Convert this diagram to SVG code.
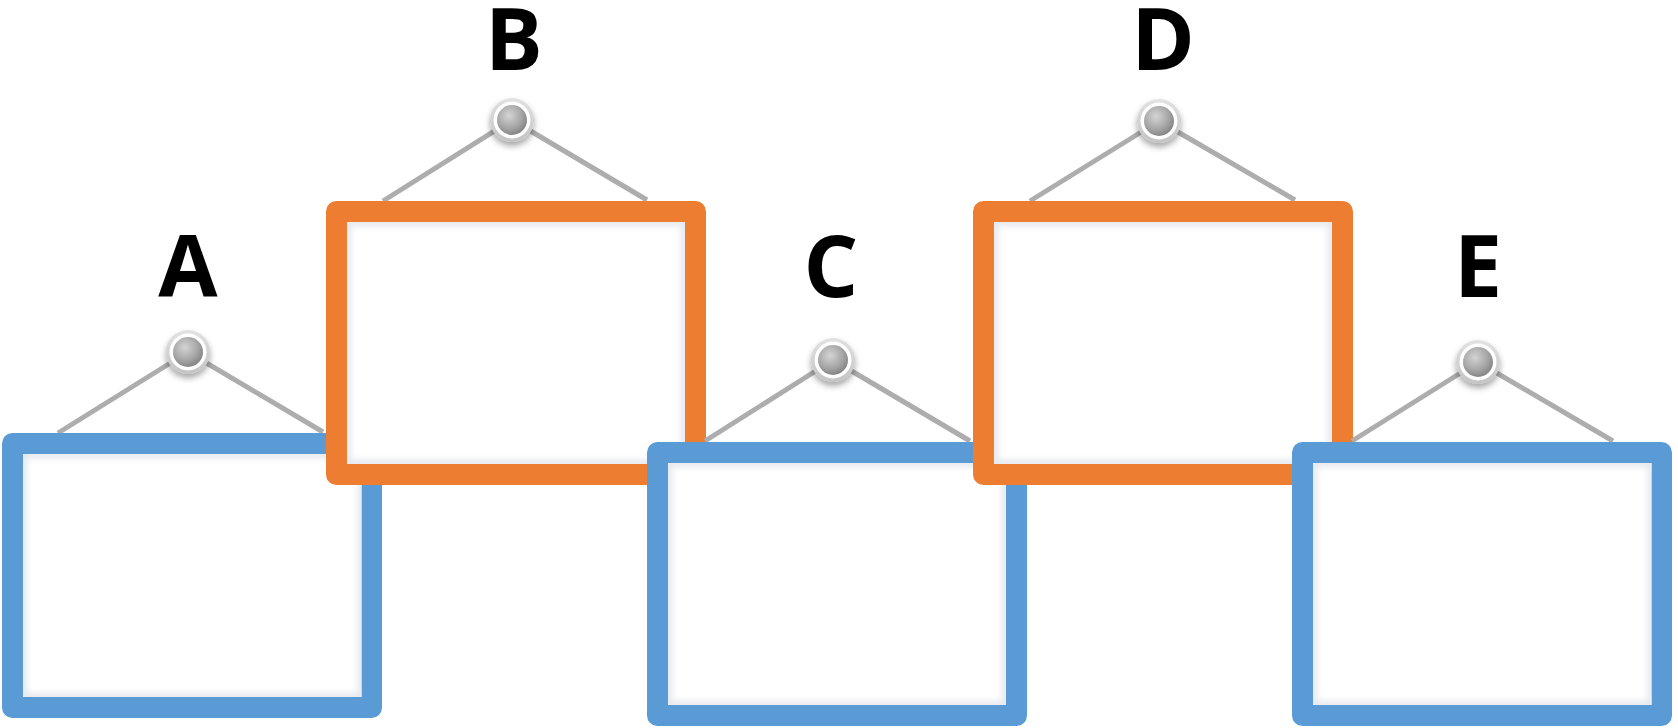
<svg xmlns="http://www.w3.org/2000/svg" width="1678" height="728" viewBox="0 0 1678 728">
  <defs>
    <radialGradient id="sphere" cx="0.4" cy="0.35" r="0.7">
      <stop offset="0" stop-color="#d4d4d4"/>
      <stop offset="0.6" stop-color="#a6a6a6"/>
      <stop offset="1" stop-color="#808080"/>
    </radialGradient>
    <linearGradient id="ring" x1="0" y1="0" x2="0" y2="1">
      <stop offset="0" stop-color="#e2e2e2"/>
      <stop offset="1" stop-color="#c4c4c4"/>
    </linearGradient>
    <filter id="pinShadow" x="-50%" y="-50%" width="200%" height="220%">
      <feDropShadow dx="0" dy="4" stdDeviation="3" flood-color="#000" flood-opacity="0.35"/>
    </filter>
    <filter id="innerBlur" x="-5%" y="-5%" width="110%" height="110%">
      <feGaussianBlur stdDeviation="3"/>
    </filter>
    <g id="pin">
      <circle r="22" fill="url(#ring)" filter="url(#pinShadow)"/>
      <circle r="18.5" fill="#ffffff"/>
      <circle r="15" fill="url(#sphere)"/>
    </g>
  </defs>
  <style>
    .hang { stroke: #adadad; stroke-width: 5; fill: none; }
    .frame { stroke-width: 21; stroke-linejoin: round; fill: #ffffff; }
    .blue { stroke: #5b9bd5; }
    .orange { stroke: #ed7d31; }
    .shade { fill: none; stroke: #e4e7ec; stroke-width: 8; filter: url(#innerBlur); }
    .lbl { font-family: "Open Sans", "Noto Sans", "Liberation Sans", sans-serif; font-weight: 700; font-size: 86px; fill: #000; text-anchor: middle; }
  </style>
  <rect width="1678" height="728" fill="#ffffff"/>

  <g id="node-A">
    <line class="hang" x1="188" y1="352" x2="58" y2="433"/>
    <line class="hang" x1="188" y1="352" x2="323" y2="432"/>
    <rect class="frame blue" x="12.5" y="443.5" width="359" height="264"/>
    <svg x="23" y="454" width="339" height="243" overflow="hidden"><rect class="shade" x="0" y="0" width="339" height="243"/></svg>
    <use href="#pin" x="188" y="352"/>
    <text class="lbl" x="188" y="297">A</text>
  </g>

  <g id="node-B">
    <line class="hang" x1="512" y1="120" x2="383" y2="201"/>
    <line class="hang" x1="512" y1="120" x2="647" y2="200"/>
    <rect class="frame orange" x="336.5" y="211.5" width="359" height="263"/>
    <svg x="347" y="222" width="338" height="242" overflow="hidden"><rect class="shade" x="0" y="0" width="338" height="242"/></svg>
    <use href="#pin" x="512" y="120"/>
    <text class="lbl" x="514" y="70">B</text>
  </g>

  <g id="node-C">
    <line class="hang" x1="833" y1="360" x2="705" y2="441"/>
    <line class="hang" x1="833" y1="360" x2="970" y2="441"/>
    <rect class="frame blue" x="657.5" y="452.5" width="359" height="263"/>
    <svg x="668" y="463" width="338" height="242" overflow="hidden"><rect class="shade" x="0" y="0" width="338" height="242"/></svg>
    <use href="#pin" x="833" y="360"/>
    <text class="lbl" x="831" y="297">C</text>
  </g>

  <g id="node-D">
    <line class="hang" x1="1159" y1="121" x2="1030" y2="201"/>
    <line class="hang" x1="1159" y1="121" x2="1295" y2="200"/>
    <rect class="frame orange" x="983.5" y="211.5" width="359" height="263"/>
    <svg x="994" y="222" width="338" height="242" overflow="hidden"><rect class="shade" x="0" y="0" width="338" height="242"/></svg>
    <use href="#pin" x="1159" y="121"/>
    <text class="lbl" x="1163" y="70">D</text>
  </g>

  <g id="node-E">
    <line class="hang" x1="1478" y1="362" x2="1352" y2="441"/>
    <line class="hang" x1="1478" y1="362" x2="1613" y2="441"/>
    <rect class="frame blue" x="1302.5" y="452.5" width="359" height="263"/>
    <svg x="1313" y="463" width="339" height="242" overflow="hidden"><rect class="shade" x="0" y="0" width="339" height="242"/></svg>
    <use href="#pin" x="1478" y="362"/>
    <text class="lbl" x="1478" y="297">E</text>
  </g>

  <g id="connectors"></g>
</svg>
